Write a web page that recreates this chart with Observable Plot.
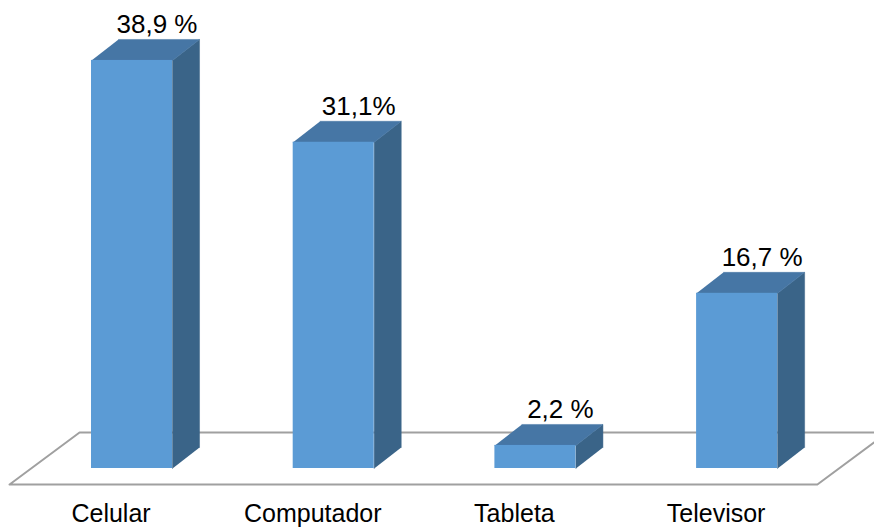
<!DOCTYPE html>
<html>
<head>
<meta charset="utf-8">
<script src="https://cdn.jsdelivr.net/npm/d3@7"></script>
<script src="https://cdn.jsdelivr.net/npm/@observablehq/plot@0.6"></script>
<style>
  html, body { margin: 0; padding: 0; background: #fff; }
  #chart { width: 874px; height: 527px; overflow: hidden; }
</style>
</head>
<body>
<div id="chart"></div>
<script>
// ---- data ----
const categories = ["Celular", "Computador", "Tableta", "Televisor"];
const values = [38.9, 31.1, 2.2, 16.7];
const valueLabels = ["38,9 %", "31,1%", "2,2 %", "16,7 %"];

// ---- geometry (scale units) ----
const halfW = 0.2008;   // half of bar width in category units
const depthX = 0.134;   // 3D depth offset in category units
const depthY = 2.0;     // 3D depth offset in value units
const floorFront = -1.53, floorBack = 3.43;
const floorLeftFront = -0.607, floorShift = 0.347, floorRightFront = 3.398;

const front = categories.map((c, i) => ({c, i, v: values[i]}));
const tops = [], sides = [];
front.forEach(d => {
  const {i, v} = d;
  tops.push(
    {k: i, x: i - halfW, y: v}, {k: i, x: i + halfW, y: v},
    {k: i, x: i + halfW + depthX, y: v + depthY}, {k: i, x: i - halfW + depthX, y: v + depthY}
  );
  sides.push(
    {k: i, x: i + halfW, y: 0}, {k: i, x: i + halfW, y: v},
    {k: i, x: i + halfW + depthX, y: v + depthY}, {k: i, x: i + halfW + depthX, y: depthY}
  );
});
const floor = [
  {x: floorLeftFront, y: floorFront},
  {x: floorLeftFront + floorShift, y: floorBack},
  {x: floorRightFront + floorShift, y: floorBack},
  {x: floorRightFront, y: floorFront},
  {x: floorLeftFront, y: floorFront}
];

const font = "'Liberation Sans', Arial, sans-serif";

const chart = Plot.plot({
  width: 874,
  height: 527,
  marginLeft: 30.65,
  marginRight: 36.55,
  marginTop: 48.4,
  marginBottom: 59,
  x: {domain: [-0.5, 3.5], axis: null},
  y: {domain: [0, 40], axis: null},
  style: {fontFamily: font, background: "#fff", overflow: "hidden"},
  marks: [
    Plot.line(floor, {x: "x", y: "y", stroke: "#a0a0a0", strokeWidth: 2, fill: "none"}),
    Plot.line(sides, {x: "x", y: "y", z: "k", fill: "#3a6488", stroke: "#3a6488", strokeWidth: 0.5}),
    Plot.line(tops, {x: "x", y: "y", z: "k", fill: "#4676a5", stroke: "#4676a5", strokeWidth: 0.5}),
    Plot.rect(front, {x1: d => d.i - halfW, x2: d => d.i + halfW, y1: 0, y2: "v", fill: "#5b9bd5", inset: 0}),
    Plot.text(front, {x: d => d.i + 0.124, y: d => d.v + depthY, text: (d, j) => valueLabels[j],
      fontSize: 26, fill: "#000", lineAnchor: "bottom", dy: -6, textAnchor: "middle"}),
    Plot.text(front, {x: d => d.i - 0.104, y: 0, text: "c",
      fontSize: 25, fill: "#000", lineAnchor: "bottom", dy: 53, textAnchor: "middle"})
  ]
});
document.getElementById("chart").appendChild(chart);
</script>
</body>
</html>
